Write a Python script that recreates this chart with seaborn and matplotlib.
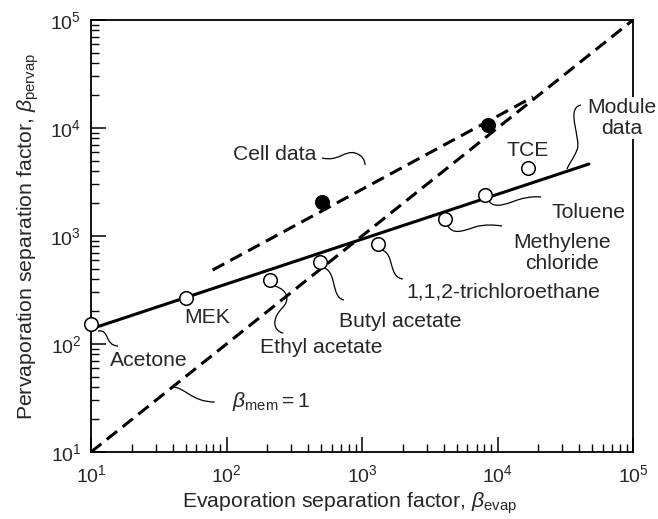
import numpy as np
import pandas as pd
import matplotlib
matplotlib.use("Agg")
import matplotlib.pyplot as plt
import seaborn as sns
from matplotlib.path import Path
from matplotlib.patches import PathPatch
from matplotlib.transforms import IdentityTransform
from matplotlib.ticker import LogLocator, NullFormatter

# --- data ---
solvents = ["Acetone", "MEK", "Ethyl acetate", "Butyl acetate",
            "1,1,2-trichloroethane", "Methylene\nchloride", "Toluene", "TCE"]
module_evap = [10, 50, 210, 490, 1310, 4100, 8100, 16800]
module_pervap = [153, 267, 390, 575, 843, 1437, 2390, 4240]

cell_evap = [507, 8500]
cell_pervap = [2065, 10700]

module_fit_evap = [10, 47300]
module_fit_pervap = [138, 4640]

cell_fit_evap = [79, 18300]
cell_fit_pervap = [484, 19400]

unity_evap = [10, 100000]
unity_pervap = [10, 100000]

# label offsets (pixels, y downward) from each point, and leader curves
label_offsets = {
    "Acetone": (58, 36), "MEK": (21, 20), "Ethyl acetate": (51, 67),
    "Butyl acetate": (80, 60), "1,1,2-trichloroethane": (125, 48),
    "Methylene\nchloride": (117, 34), "Toluene": (103, 17), "TCE": (0, -18),
}
leaders = {
    "Acetone": [[(7, 7), (19, 5), (13, 21), (27, 22)]],
    "Ethyl acetate": [[(5, 6), (18, 10), (20, 20), (12, 28)],
                      [(12, 28), (2, 38), (2, 50), (13, 53)]],
    "Butyl acetate": [[(4, 6), (17, 10), (11, 36), (24, 38)]],
    "1,1,2-trichloroethane": [[(4, 6), (17, 10), (10, 33), (25, 35)]],
    "Methylene\nchloride": [[(3, 7), (8, 16), (18, 12), (30, 8)],
                            [(30, 8), (40, 5), (50, 6), (57, 7)]],
    "Toluene": [[(4, 6), (10, 15), (25, 7), (35, 4)],
                [(35, 4), (43, 2), (50, 1), (56, 2)]],
}

sns.set_theme(style="ticks")
plt.rcParams["font.family"] = ["Liberation Sans", "DejaVu Sans"]
plt.rcParams["mathtext.fontset"] = "custom"
plt.rcParams["mathtext.rm"] = "Liberation Sans"
plt.rcParams["mathtext.it"] = "Liberation Sans:italic"
plt.rcParams["mathtext.default"] = "regular"

fig = plt.figure(figsize=(6.58, 5.19), dpi=100)
ax = fig.add_axes([91 / 658, 1 - 452 / 519, 542 / 658, 432 / 519])
ax.set_xscale("log")
ax.set_yscale("log")
ax.set_xlim(10, 1e5)
ax.set_ylim(10, 1e5)

dash = (0, (4.3, 2.3))
sns.lineplot(x=unity_evap, y=unity_pervap, ax=ax, color="black", lw=2.2,
             linestyle=dash, estimator=None, sort=False)
sns.lineplot(x=cell_fit_evap, y=cell_fit_pervap, ax=ax, color="black", lw=2.2,
             linestyle=dash, estimator=None, sort=False)
sns.lineplot(x=module_fit_evap, y=module_fit_pervap, ax=ax, color="black", lw=2.2,
             estimator=None, sort=False)

pts = pd.DataFrame({"evap": module_evap, "pervap": module_pervap, "name": solvents})
sns.scatterplot(data=pts, x="evap", y="pervap", ax=ax, s=95, color="white",
                edgecolor="black", linewidth=1.1, zorder=4, clip_on=False)
sns.scatterplot(x=cell_evap, y=cell_pervap, ax=ax, s=95, color="black",
                edgecolor="black", linewidth=1.1, zorder=4)

fs = 15.2


def draw_leader(anchor, segments):
    x0, y0 = ax.transData.transform(anchor)
    verts, codes = [], []
    for seg in segments:
        for i, (dx, dy) in enumerate(seg):
            verts.append((x0 + dx, y0 - dy))
            codes.append(Path.MOVETO if i == 0 else Path.CURVE4)
    ax.add_patch(PathPatch(Path(verts, codes), transform=IdentityTransform(),
                           fill=False, lw=0.9, color="black", clip_on=False))


for _, row in pts.iterrows():
    dx, dy = label_offsets[row["name"]]
    ax.annotate(row["name"], xy=(row["evap"], row["pervap"]), xytext=(dx, -dy),
                textcoords="offset pixels", ha="center", va="center",
                fontsize=fs, linespacing=1.12)
    if row["name"] in leaders:
        draw_leader((row["evap"], row["pervap"]), leaders[row["name"]])

# cell data label
ax.annotate("Cell data", xy=(cell_evap[0], cell_pervap[0]), xytext=(-47, 47),
            textcoords="offset pixels", ha="center", va="center", fontsize=fs)
draw_leader((cell_evap[0], cell_pervap[0]),
            [[(0, -44), (16, -40), (23, -52), (33, -49)],
             [(33, -49), (40, -47), (43, -42), (43, -37)]])

# module data label (sits on the right spine)
ax.annotate("Module\ndata", xy=(module_fit_evap[1], module_fit_pervap[1]),
            xytext=(33, 46), textcoords="offset pixels", ha="center", va="center",
            fontsize=fs, linespacing=1.12, zorder=6, annotation_clip=False,
            bbox=dict(facecolor="white", edgecolor="none", pad=1))
draw_leader((module_fit_evap[1], module_fit_pervap[1]),
            [[(-8, -59), (-24, -56), (-7, -24), (-12, -14)],
             [(-12, -14), (-15, -6), (-19, -2), (-22, 5)]])

# beta_mem = 1 label
ax.annotate(r"$\it{\beta}_{\rm mem} = 1$", xy=(40, 40), xytext=(98, -15),
            textcoords="offset pixels", ha="center", va="center", fontsize=fs)
draw_leader((40, 40), [[(0, 0), (12, 0), (19, 15), (42, 15)]])

ax.set_xlabel(r"Evaporation separation factor, $\it{\beta}_{\rm evap}$", fontsize=15.3)
ax.set_ylabel(r"Pervaporation separation factor, $\it{\beta}_{\rm pervap}$", fontsize=15.3, labelpad=7)
ax.xaxis.set_label_coords(0.477, -0.09)

for axis in (ax.xaxis, ax.yaxis):
    axis.set_major_locator(LogLocator(base=10, numticks=10))
    axis.set_minor_locator(LogLocator(base=10, subs=np.arange(2, 10), numticks=10))
    axis.set_minor_formatter(NullFormatter())
ax.tick_params(which="both", direction="in", top=False, right=False, color="black")
ax.tick_params(which="major", length=11, width=1.1, labelsize=14)
ax.tick_params(axis="x", which="major", pad=9)
ax.tick_params(axis="y", which="major", pad=7)
ax.tick_params(which="minor", length=5.5, width=1.0)
for sp in ax.spines.values():
    sp.set_linewidth(1.3)
    sp.set_color("black")

fig.savefig("out.png", dpi=100)
